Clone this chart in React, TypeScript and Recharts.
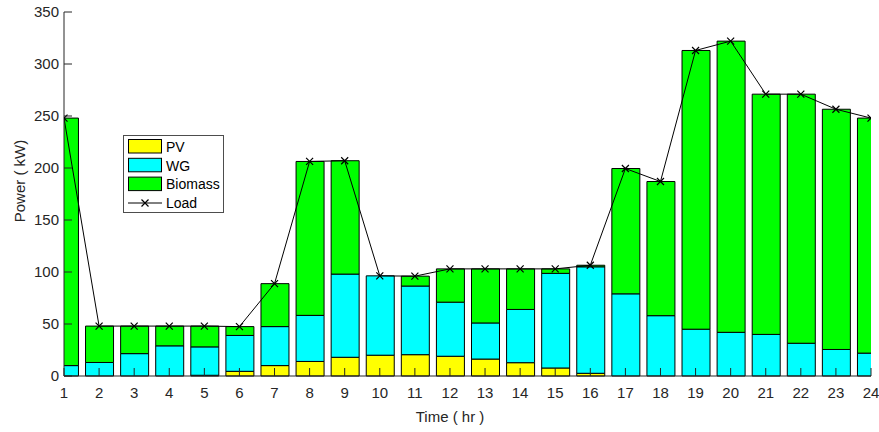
import React from 'react';
import { ComposedChart, Bar, Line, XAxis, YAxis } from 'recharts';

// Hourly generation mix (kW) and load over a day
const hours = [1, 2, 3, 4, 5, 6, 7, 8, 9, 10, 11, 12, 13, 14, 15, 16, 17, 18, 19, 20, 21, 22, 23, 24];
const pv = [0, 0, 0, 0, 0.7, 4.5, 10, 14, 18, 20, 20.5, 19, 16.3, 12.8, 7.7, 2.6, 0, 0, 0, 0, 0, 0, 0, 0];
const wg = [10, 13, 21.5, 29, 27.3, 34.5, 37.5, 44.3, 80, 76.3, 66, 52, 34.7, 51.2, 91, 102.4, 79, 58, 45, 42, 40, 31.5, 25.5, 22];
const biomass = [238, 35, 26.5, 19, 20, 8.5, 41.3, 148, 109, 0, 9.5, 32, 52, 39, 4.3, 1.5, 120.5, 129, 268, 280, 231, 239.5, 231, 226];
const load = [248, 48, 48, 48, 48, 47.5, 88.8, 206.3, 207, 96.3, 96, 103, 103, 103, 103, 106.5, 199.5, 187, 313, 322, 271, 271, 256.5, 248];

const xTicks = hours;
const yTicks = [0, 50, 100, 150, 200, 250, 300, 350];

const data = hours.map((h, i) => ({
  hour: h,
  pv: pv[i],
  wg: wg[i],
  biomass: biomass[i],
  load: load[i],
}));

const series = [
  { key: 'pv', name: 'PV', color: '#ffff00' },
  { key: 'wg', name: 'WG', color: '#00ffff' },
  { key: 'biomass', name: 'Biomass', color: '#00ff00' },
];

const FONT = '"Liberation Sans", Arial, Helvetica, sans-serif';
const AXIS = '#262626';
const TICK_LEN = 8;

const BottomTick = (props: any) => {
  const { x, y, payload } = props;
  return (
    <g>
      <line x1={x} y1={y} x2={x} y2={y - TICK_LEN} stroke={AXIS} strokeWidth={1} />
      <text x={x} y={y + 22} textAnchor="middle" fontSize={15} fill={AXIS} fontFamily={FONT}>
        {payload.value}
      </text>
    </g>
  );
};

const TopTick = (props: any) => {
  const { x, y } = props;
  return <line x1={x} y1={y} x2={x} y2={y + TICK_LEN} stroke={AXIS} strokeWidth={1} />;
};

const LeftTick = (props: any) => {
  const { x, y, payload } = props;
  return (
    <g>
      <line x1={x} y1={y} x2={x + TICK_LEN} y2={y} stroke={AXIS} strokeWidth={1} />
      <text x={x - 5} y={y + 5.3} textAnchor="end" fontSize={15} fill={AXIS} fontFamily={FONT}>
        {payload.value}
      </text>
    </g>
  );
};

const RightTick = (props: any) => {
  const { x, y } = props;
  return <line x1={x} y1={y} x2={x - TICK_LEN} y2={y} stroke={AXIS} strokeWidth={1} />;
};

const CrossDot = (props: any) => {
  const { cx, cy, index } = props;
  const s = 3.5;
  return (
    <path
      key={`cross-${index}`}
      d={`M${cx - s},${cy - s}L${cx + s},${cy + s}M${cx - s},${cy + s}L${cx + s},${cy - s}`}
      stroke="#000"
      strokeWidth={1.2}
      fill="none"
    />
  );
};

const Legend = () => (
  <svg
    width={101}
    height={78}
    style={{ position: 'absolute', left: 123, top: 135 }}
    fontFamily={FONT}
  >
    <rect x={0.5} y={0.5} width={100} height={77} fill="#fff" stroke="#4d4d4d" strokeWidth={1} />
    {series.map((s, i) => (
      <g key={s.key}>
        <rect x={5.5} y={4.5 + i * 18.8} width={33} height={13.5} fill={s.color} stroke="#000" strokeWidth={1} />
        <text x={43} y={16.8 + i * 18.8} fontSize={14} fill="#000">
          {s.name}
        </text>
      </g>
    ))}
    <line x1={5} y1={68} x2={39} y2={68} stroke="#000" strokeWidth={1} />
    <path d="M18.5,64.5L25.5,71.5M18.5,71.5L25.5,64.5" stroke="#000" strokeWidth={1.2} />
    <text x={43} y={73} fontSize={14} fill="#000">
      Load
    </text>
  </svg>
);

export default function App() {
  return (
    <div style={{ position: 'absolute', left: 0, top: 0, width: 879, height: 432, background: '#fff' }}>
      <ComposedChart
        width={879}
        height={432}
        data={data}
        margin={{ top: 12, right: 8, bottom: 0, left: 0 }}
      >
        <XAxis
          dataKey="hour"
          type="number"
          domain={[1, 24]}
          ticks={xTicks}
          allowDataOverflow
          height={56}
          tickSize={0}
          tickMargin={0}
          tickLine={false}
          axisLine={{ stroke: AXIS }}
          tick={<BottomTick />}
          interval={0}
        />
        <XAxis
          xAxisId="top"
          dataKey="hour"
          type="number"
          orientation="top"
          domain={[1, 24]}
          ticks={xTicks}
          allowDataOverflow
          height={0}
          tickSize={0}
          tickMargin={0}
          tickLine={false}
          axisLine={{ stroke: AXIS }}
          tick={<TopTick />}
          interval={0}
        />
        <YAxis
          type="number"
          domain={[0, 350]}
          ticks={yTicks}
          width={64}
          tickSize={0}
          tickMargin={0}
          tickLine={false}
          axisLine={{ stroke: AXIS }}
          tick={<LeftTick />}
          interval={0}
          label={{
            content: () => (
              <text
                transform="translate(24.5,181) rotate(-90)"
                textAnchor="middle"
                fontSize={15}
                fill={AXIS}
                fontFamily={FONT}
              >
                Power ( kW)
              </text>
            ),
          }}
        />
        <YAxis
          yAxisId="right"
          type="number"
          orientation="right"
          domain={[0, 350]}
          ticks={yTicks}
          width={0}
          tickSize={0}
          tickMargin={0}
          tickLine={false}
          axisLine={{ stroke: AXIS }}
          tick={<RightTick />}
          interval={0}
        />
        {series.map((s) => (
          <Bar
            key={s.key}
            dataKey={s.key}
            name={s.name}
            stackId="gen"
            fill={s.color}
            stroke="#000"
            strokeWidth={1}
            barSize={28}
            isAnimationActive={false}
          />
        ))}
        <Line
          dataKey="load"
          name="Load"
          type="linear"
          stroke="#000"
          strokeWidth={1}
          dot={CrossDot}
          activeDot={false}
          isAnimationActive={false}
        />
      </ComposedChart>
      <div
        style={{
          position: 'absolute',
          left: 450,
          top: 408,
          transform: 'translateX(-50%)',
          fontFamily: FONT,
          fontSize: 15,
          color: AXIS,
          whiteSpace: 'nowrap',
          lineHeight: '18px',
        }}
      >
        Time ( hr )
      </div>
      <Legend />
    </div>
  );
}
